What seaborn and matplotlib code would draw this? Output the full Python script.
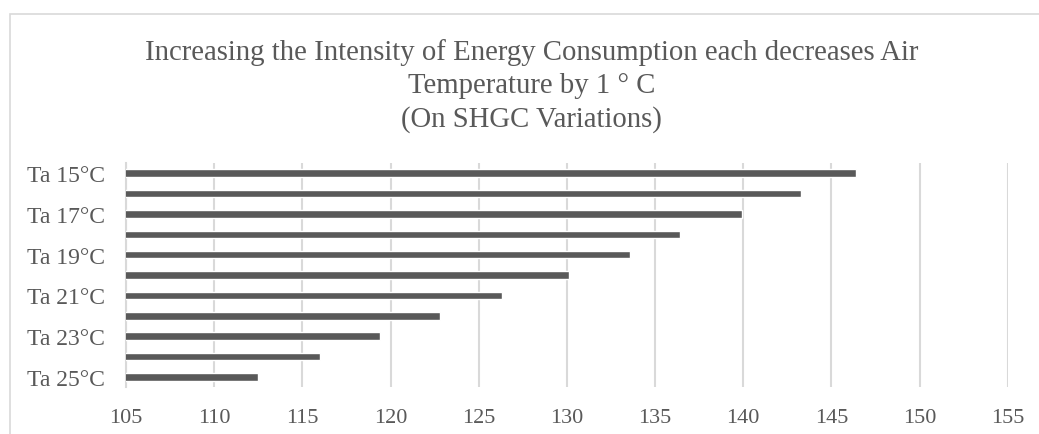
import matplotlib
matplotlib.use("Agg")
import matplotlib.pyplot as plt
import seaborn as sns
import pandas as pd
from matplotlib.patches import Rectangle

categories = ["Ta 15°C", "Ta 16°C", "Ta 17°C", "Ta 18°C", "Ta 19°C", "Ta 20°C",
              "Ta 21°C", "Ta 22°C", "Ta 23°C", "Ta 24°C", "Ta 25°C"]
values = [146.4, 143.3, 139.9, 136.4, 133.6, 130.1, 126.3, 122.8, 119.4, 116.0, 112.5]
tick_labels = ["Ta 15°C", "", "Ta 17°C", "", "Ta 19°C", "", "Ta 21°C", "", "Ta 23°C", "", "Ta 25°C"]
x_ticks = [105, 110, 115, 120, 125, 130, 135, 140, 145, 150, 155]
title = ("Increasing the Intensity of Energy Consumption each decreases Air\n"
         "Temperature by 1 ° C\n(On SHGC Variations)")

sns.set_theme(style="white")
plt.rcParams['font.family'] = ['Liberation Serif', 'DejaVu Serif']

df = pd.DataFrame({"cat": categories, "val": values})

fig = plt.figure(figsize=(10.39, 4.35), dpi=100)
ax = fig.add_axes([0.1213, 0.108, 0.8487, 0.515])

fig.patches.append(Rectangle((10/1039, -0.1), 1.2, 1 - 14.5/435 + 0.1,
                             transform=fig.transFigure, fill=False,
                             edgecolor="#d9d9d9", linewidth=1.2, zorder=0))

sns.barplot(data=df, y="cat", x="val", orient="h", color="#595959",
            width=0.37, ax=ax, zorder=3, saturation=1)

ax.set_xlim(105, 155)
ax.set_xticks(x_ticks)
ax.set_xticklabels([str(t) for t in x_ticks], fontsize=16, color="#595959")
ax.set_yticks(range(len(categories)))
ax.set_yticklabels(tick_labels, fontsize=17, color="#595959")
ax.set_xlabel("")
ax.set_ylabel("")
ax.grid(axis="x", color="#d9d9d9", linewidth=1.5, zorder=0)
ax.grid(axis="y", visible=False)
for s in ["top", "right", "bottom"]:
    ax.spines[s].set_visible(False)
ax.spines["left"].set_color("#d9d9d9")
ax.spines["left"].set_linewidth(1.5)
ax.tick_params(axis="x", length=0, pad=15)
ax.tick_params(axis="y", length=0, pad=15)

fig.text(531.5/1039, 1 - 86/435, title, ha="center", va="center", fontsize=20.7,
         color="#595959", linespacing=1.34, multialignment="center")

fig.savefig("out.png", dpi=100, facecolor="white")
